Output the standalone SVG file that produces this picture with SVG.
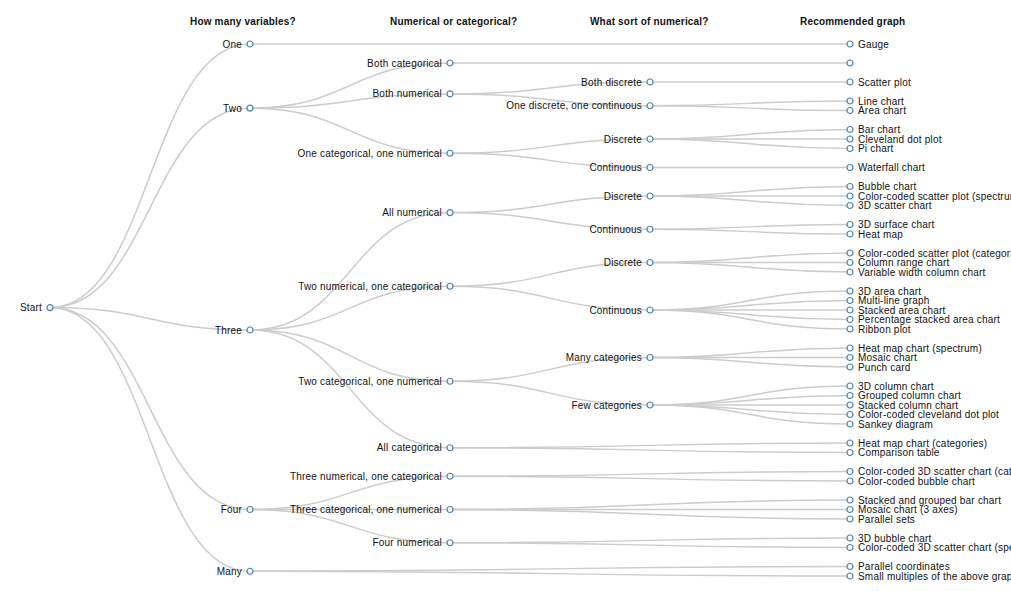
<svg xmlns="http://www.w3.org/2000/svg" width="1011" height="591" viewBox="0 0 1011 591">
<style>
.link{fill:none;stroke:#ccc;stroke-width:1.5px}
.node use,.node circle{fill:#fff;stroke:steelblue;stroke-width:1.2px}
.node text{font-family:"Liberation Sans",Arial,sans-serif;font-size:10px;letter-spacing:0.2px;fill:#111}
.in text{text-anchor:end}
.hd{font-family:"Liberation Sans",Arial,sans-serif;font-size:10px;letter-spacing:0.18px;font-weight:bold;fill:#111}
</style>
<defs><circle id="c" r="3" fill="#fff" stroke="steelblue" stroke-width="1.2"/></defs>
<rect width="1011" height="591" fill="#fff"/>
<g id="headers">
<text class="hd" x="190" y="25">How many variables?</text>
<text class="hd" x="390" y="25">Numerical or categorical?</text>
<text class="hd" x="590" y="25">What sort of numerical?</text>
<text class="hd" x="800" y="25">Recommended graph</text>
</g>
<g id="links">
<path class="link" d="M50,307.6C150,307.6 150,44 250,44"/>
<path class="link" d="M50,307.6C150,307.6 150,108.1 250,108.1"/>
<path class="link" d="M50,307.6C150,307.6 150,330 250,330"/>
<path class="link" d="M50,307.6C150,307.6 150,509.5 250,509.5"/>
<path class="link" d="M50,307.6C150,307.6 150,571.25 250,571.25"/>
<path class="link" d="M250,44C550,44 550,44 850,44"/>
<path class="link" d="M250,108.1C350,108.1 350,63 450,63"/>
<path class="link" d="M250,108.1C350,108.1 350,93.9 450,93.9"/>
<path class="link" d="M250,108.1C350,108.1 350,153.25 450,153.25"/>
<path class="link" d="M250,330C350,330 350,212.6 450,212.6"/>
<path class="link" d="M250,330C350,330 350,286.25 450,286.25"/>
<path class="link" d="M250,330C350,330 350,381.25 450,381.25"/>
<path class="link" d="M250,330C350,330 350,447.75 450,447.75"/>
<path class="link" d="M250,509.5C350,509.5 350,476.25 450,476.25"/>
<path class="link" d="M250,509.5C350,509.5 350,509.5 450,509.5"/>
<path class="link" d="M250,509.5C350,509.5 350,542.75 450,542.75"/>
<path class="link" d="M250,571.25C550,571.25 550,566.5 850,566.5"/>
<path class="link" d="M250,571.25C550,571.25 550,576 850,576"/>
<path class="link" d="M450,63C650,63 650,63 850,63"/>
<path class="link" d="M450,93.9C550,93.9 550,82 650,82"/>
<path class="link" d="M450,93.9C550,93.9 550,105.75 650,105.75"/>
<path class="link" d="M450,153.25C550,153.25 550,139 650,139"/>
<path class="link" d="M450,153.25C550,153.25 550,167.5 650,167.5"/>
<path class="link" d="M450,212.6C550,212.6 550,196 650,196"/>
<path class="link" d="M450,212.6C550,212.6 550,229.25 650,229.25"/>
<path class="link" d="M450,286.25C550,286.25 550,262.5 650,262.5"/>
<path class="link" d="M450,286.25C550,286.25 550,310 650,310"/>
<path class="link" d="M450,381.25C550,381.25 550,357.5 650,357.5"/>
<path class="link" d="M450,381.25C550,381.25 550,405 650,405"/>
<path class="link" d="M450,447.75C650,447.75 650,443 850,443"/>
<path class="link" d="M450,447.75C650,447.75 650,452.5 850,452.5"/>
<path class="link" d="M450,476.25C650,476.25 650,471.5 850,471.5"/>
<path class="link" d="M450,476.25C650,476.25 650,481 850,481"/>
<path class="link" d="M450,509.5C650,509.5 650,500 850,500"/>
<path class="link" d="M450,509.5C650,509.5 650,509.5 850,509.5"/>
<path class="link" d="M450,509.5C650,509.5 650,519 850,519"/>
<path class="link" d="M450,542.75C650,542.75 650,538 850,538"/>
<path class="link" d="M450,542.75C650,542.75 650,547.5 850,547.5"/>
<path class="link" d="M650,82C750,82 750,82 850,82"/>
<path class="link" d="M650,105.75C750,105.75 750,101 850,101"/>
<path class="link" d="M650,105.75C750,105.75 750,110.5 850,110.5"/>
<path class="link" d="M650,139C750,139 750,129.5 850,129.5"/>
<path class="link" d="M650,139C750,139 750,139 850,139"/>
<path class="link" d="M650,139C750,139 750,148.5 850,148.5"/>
<path class="link" d="M650,167.5C750,167.5 750,167.5 850,167.5"/>
<path class="link" d="M650,196C750,196 750,186.5 850,186.5"/>
<path class="link" d="M650,196C750,196 750,196 850,196"/>
<path class="link" d="M650,196C750,196 750,205.5 850,205.5"/>
<path class="link" d="M650,229.25C750,229.25 750,224.5 850,224.5"/>
<path class="link" d="M650,229.25C750,229.25 750,234 850,234"/>
<path class="link" d="M650,262.5C750,262.5 750,253 850,253"/>
<path class="link" d="M650,262.5C750,262.5 750,262.5 850,262.5"/>
<path class="link" d="M650,262.5C750,262.5 750,272 850,272"/>
<path class="link" d="M650,310C750,310 750,291 850,291"/>
<path class="link" d="M650,310C750,310 750,300.5 850,300.5"/>
<path class="link" d="M650,310C750,310 750,310 850,310"/>
<path class="link" d="M650,310C750,310 750,319.5 850,319.5"/>
<path class="link" d="M650,310C750,310 750,329 850,329"/>
<path class="link" d="M650,357.5C750,357.5 750,348 850,348"/>
<path class="link" d="M650,357.5C750,357.5 750,357.5 850,357.5"/>
<path class="link" d="M650,357.5C750,357.5 750,367 850,367"/>
<path class="link" d="M650,405C750,405 750,386 850,386"/>
<path class="link" d="M650,405C750,405 750,395.5 850,395.5"/>
<path class="link" d="M650,405C750,405 750,405 850,405"/>
<path class="link" d="M650,405C750,405 750,414.5 850,414.5"/>
<path class="link" d="M650,405C750,405 750,424 850,424"/>
</g>
<g id="n-start" class="node in" transform="translate(50,307.6)"><use href="#c"/><text x="-8" dy=".35em">Start</text></g>
<g id="n-one" class="node in" transform="translate(250,44)"><use href="#c"/><text x="-8" dy=".35em">One</text></g>
<g id="n-two" class="node in" transform="translate(250,108.1)"><use href="#c"/><text x="-8" dy=".35em">Two</text></g>
<g id="n-three" class="node in" transform="translate(250,330)"><use href="#c"/><text x="-8" dy=".35em">Three</text></g>
<g id="n-four" class="node in" transform="translate(250,509.5)"><use href="#c"/><text x="-8" dy=".35em">Four</text></g>
<g id="n-many" class="node in" transform="translate(250,571.25)"><use href="#c"/><text x="-8" dy=".35em">Many</text></g>
<g id="n-bothcat" class="node in" transform="translate(450,63)"><use href="#c"/><text x="-8" dy=".35em">Both categorical</text></g>
<g id="n-bothnum" class="node in" transform="translate(450,93.9)"><use href="#c"/><text x="-8" dy=".35em">Both numerical</text></g>
<g id="n-onecat" class="node in" transform="translate(450,153.25)"><use href="#c"/><text x="-8" dy=".35em">One categorical, one numerical</text></g>
<g id="n-allnum" class="node in" transform="translate(450,212.6)"><use href="#c"/><text x="-8" dy=".35em">All numerical</text></g>
<g id="n-twonum" class="node in" transform="translate(450,286.25)"><use href="#c"/><text x="-8" dy=".35em">Two numerical, one categorical</text></g>
<g id="n-twocat" class="node in" transform="translate(450,381.25)"><use href="#c"/><text x="-8" dy=".35em">Two categorical, one numerical</text></g>
<g id="n-allcat" class="node in" transform="translate(450,447.75)"><use href="#c"/><text x="-8" dy=".35em">All categorical</text></g>
<g id="n-threenum" class="node in" transform="translate(450,476.25)"><use href="#c"/><text x="-8" dy=".35em">Three numerical, one categorical</text></g>
<g id="n-threecat" class="node in" transform="translate(450,509.5)"><use href="#c"/><text x="-8" dy=".35em">Three categorical, one numerical</text></g>
<g id="n-fournum" class="node in" transform="translate(450,542.75)"><use href="#c"/><text x="-8" dy=".35em">Four numerical</text></g>
<g id="n-bothdisc" class="node in" transform="translate(650,82)"><use href="#c"/><text x="-8" dy=".35em">Both discrete</text></g>
<g id="n-onedisc" class="node in" transform="translate(650,105.75)"><use href="#c"/><text x="-8" dy=".35em">One discrete, one continuous</text></g>
<g id="n-disc1" class="node in" transform="translate(650,139)"><use href="#c"/><text x="-8" dy=".35em">Discrete</text></g>
<g id="n-cont1" class="node in" transform="translate(650,167.5)"><use href="#c"/><text x="-8" dy=".35em">Continuous</text></g>
<g id="n-disc2" class="node in" transform="translate(650,196)"><use href="#c"/><text x="-8" dy=".35em">Discrete</text></g>
<g id="n-cont2" class="node in" transform="translate(650,229.25)"><use href="#c"/><text x="-8" dy=".35em">Continuous</text></g>
<g id="n-disc3" class="node in" transform="translate(650,262.5)"><use href="#c"/><text x="-8" dy=".35em">Discrete</text></g>
<g id="n-cont3" class="node in" transform="translate(650,310)"><use href="#c"/><text x="-8" dy=".35em">Continuous</text></g>
<g id="n-manycat" class="node in" transform="translate(650,357.5)"><use href="#c"/><text x="-8" dy=".35em">Many categories</text></g>
<g id="n-fewcat" class="node in" transform="translate(650,405)"><use href="#c"/><text x="-8" dy=".35em">Few categories</text></g>
<g id="l-gauge" class="node" transform="translate(850,44)"><use href="#c"/><text x="8" dy=".35em">Gauge</text></g>
<g id="l-empty" class="node" transform="translate(850,63)"><use href="#c"/></g>
<g id="l-scatter" class="node" transform="translate(850,82)"><use href="#c"/><text x="8" dy=".35em">Scatter plot</text></g>
<g id="l-line" class="node" transform="translate(850,101)"><use href="#c"/><text x="8" dy=".35em">Line chart</text></g>
<g id="l-area" class="node" transform="translate(850,110.5)"><use href="#c"/><text x="8" dy=".35em">Area chart</text></g>
<g id="l-bar" class="node" transform="translate(850,129.5)"><use href="#c"/><text x="8" dy=".35em">Bar chart</text></g>
<g id="l-cleveland" class="node" transform="translate(850,139)"><use href="#c"/><text x="8" dy=".35em">Cleveland dot plot</text></g>
<g id="l-pi" class="node" transform="translate(850,148.5)"><use href="#c"/><text x="8" dy=".35em">Pi chart</text></g>
<g id="l-waterfall" class="node" transform="translate(850,167.5)"><use href="#c"/><text x="8" dy=".35em">Waterfall chart</text></g>
<g id="l-bubble" class="node" transform="translate(850,186.5)"><use href="#c"/><text x="8" dy=".35em">Bubble chart</text></g>
<g id="l-ccsp" class="node" transform="translate(850,196)"><use href="#c"/><text x="8" dy=".35em">Color-coded scatter plot (spectrum)</text></g>
<g id="l-3dscatter" class="node" transform="translate(850,205.5)"><use href="#c"/><text x="8" dy=".35em">3D scatter chart</text></g>
<g id="l-3dsurface" class="node" transform="translate(850,224.5)"><use href="#c"/><text x="8" dy=".35em">3D surface chart</text></g>
<g id="l-heatmap" class="node" transform="translate(850,234)"><use href="#c"/><text x="8" dy=".35em">Heat map</text></g>
<g id="l-ccspcat" class="node" transform="translate(850,253)"><use href="#c"/><text x="8" dy=".35em">Color-coded scatter plot (categories)</text></g>
<g id="l-colrange" class="node" transform="translate(850,262.5)"><use href="#c"/><text x="8" dy=".35em">Column range chart</text></g>
<g id="l-varwidth" class="node" transform="translate(850,272)"><use href="#c"/><text x="8" dy=".35em">Variable width column chart</text></g>
<g id="l-3darea" class="node" transform="translate(850,291)"><use href="#c"/><text x="8" dy=".35em">3D area chart</text></g>
<g id="l-multiline" class="node" transform="translate(850,300.5)"><use href="#c"/><text x="8" dy=".35em">Multi-line graph</text></g>
<g id="l-stackedarea" class="node" transform="translate(850,310)"><use href="#c"/><text x="8" dy=".35em">Stacked area chart</text></g>
<g id="l-pctarea" class="node" transform="translate(850,319.5)"><use href="#c"/><text x="8" dy=".35em">Percentage stacked area chart</text></g>
<g id="l-ribbon" class="node" transform="translate(850,329)"><use href="#c"/><text x="8" dy=".35em">Ribbon plot</text></g>
<g id="l-heatspec" class="node" transform="translate(850,348)"><use href="#c"/><text x="8" dy=".35em">Heat map chart (spectrum)</text></g>
<g id="l-mosaic" class="node" transform="translate(850,357.5)"><use href="#c"/><text x="8" dy=".35em">Mosaic chart</text></g>
<g id="l-punch" class="node" transform="translate(850,367)"><use href="#c"/><text x="8" dy=".35em">Punch card</text></g>
<g id="l-3dcol" class="node" transform="translate(850,386)"><use href="#c"/><text x="8" dy=".35em">3D column chart</text></g>
<g id="l-groupedcol" class="node" transform="translate(850,395.5)"><use href="#c"/><text x="8" dy=".35em">Grouped column chart</text></g>
<g id="l-stackedcol" class="node" transform="translate(850,405)"><use href="#c"/><text x="8" dy=".35em">Stacked column chart</text></g>
<g id="l-cccleveland" class="node" transform="translate(850,414.5)"><use href="#c"/><text x="8" dy=".35em">Color-coded cleveland dot plot</text></g>
<g id="l-sankey" class="node" transform="translate(850,424)"><use href="#c"/><text x="8" dy=".35em">Sankey diagram</text></g>
<g id="l-heatcat" class="node" transform="translate(850,443)"><use href="#c"/><text x="8" dy=".35em">Heat map chart (categories)</text></g>
<g id="l-comparison" class="node" transform="translate(850,452.5)"><use href="#c"/><text x="8" dy=".35em">Comparison table</text></g>
<g id="l-cc3dcat" class="node" transform="translate(850,471.5)"><use href="#c"/><text x="8" dy=".35em">Color-coded 3D scatter chart (categories)</text></g>
<g id="l-ccbubble" class="node" transform="translate(850,481)"><use href="#c"/><text x="8" dy=".35em">Color-coded bubble chart</text></g>
<g id="l-stackgroup" class="node" transform="translate(850,500)"><use href="#c"/><text x="8" dy=".35em">Stacked and grouped bar chart</text></g>
<g id="l-mosaic3" class="node" transform="translate(850,509.5)"><use href="#c"/><text x="8" dy=".35em">Mosaic chart (3 axes)</text></g>
<g id="l-parsets" class="node" transform="translate(850,519)"><use href="#c"/><text x="8" dy=".35em">Parallel sets</text></g>
<g id="l-3dbubble" class="node" transform="translate(850,538)"><use href="#c"/><text x="8" dy=".35em">3D bubble chart</text></g>
<g id="l-cc3dspec" class="node" transform="translate(850,547.5)"><use href="#c"/><text x="8" dy=".35em">Color-coded 3D scatter chart (spectrum)</text></g>
<g id="l-parcoord" class="node" transform="translate(850,566.5)"><use href="#c"/><text x="8" dy=".35em">Parallel coordinates</text></g>
<g id="l-smallmult" class="node" transform="translate(850,576)"><use href="#c"/><text x="8" dy=".35em">Small multiples of the above graphs</text></g>
</svg>
